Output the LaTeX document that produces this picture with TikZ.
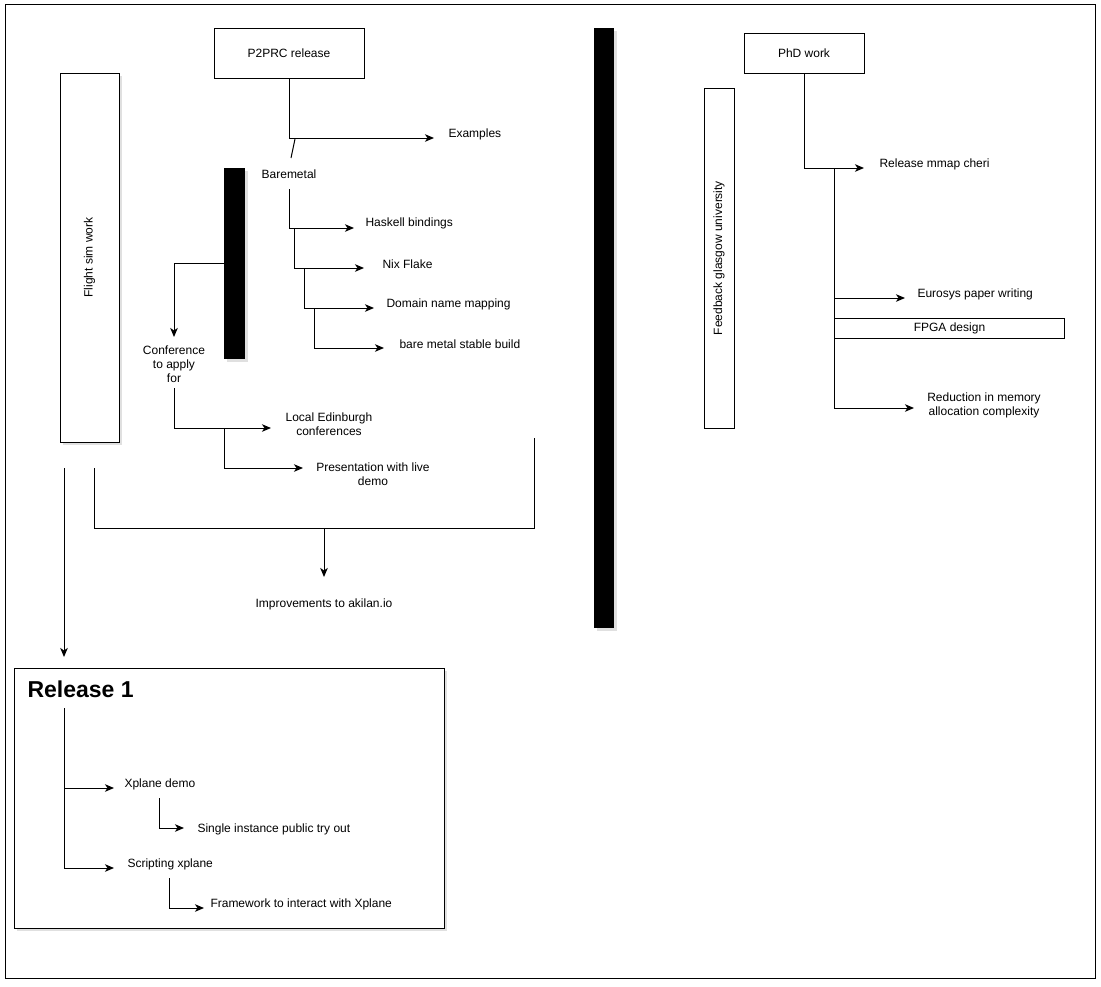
\documentclass[tikz,border=0pt]{standalone}
\usepackage{fontspec}
\setmainfont{Liberation Sans}
\usetikzlibrary{arrows.meta}
\begin{document}
\begin{tikzpicture}[x=1pt,y=-1pt,line width=1pt,
  fnt/.style={font=\fontsize{12}{14}\selectfont, inner sep=0pt, align=center},
  lbl/.style={fnt, yshift=-1.5pt},
  lblw/.style={lbl, anchor=west},
  boxn/.style={draw, fill=white, inner sep=0pt, font=\fontsize{12}{14}\selectfont},
  barn/.style={fill=black, inner sep=0pt},
  shd/.style={fill=black!12},
  arr/.style={-{Stealth[length=9pt,width=7.5pt,inset=2.5pt]}}
]
\useasboundingbox (0,0) rectangle (1101,986);
\fill[white] (0,0) rectangle (1101,986);
\draw (5,4) rectangle (1095,978);

% shadows
\fill[shd] (63,76) rectangle (122,445);
\fill[shd] (227,171) rectangle (248,362);
\fill[shd] (597,31) rectangle (617,631);
\fill[shd] (17,671) rectangle (447,931);

% left column
\node[boxn, minimum width=59pt, minimum height=369pt] (flight) at (89.5,257.5) {};
\node[fnt, rotate=90] (flighttxt) at (flight.center) {Flight sim work};

\node[boxn, minimum width=150pt, minimum height=50pt] (p2prc) at (289,53) {P2PRC release};
\node[lblw] (examples) at (448,133) {Examples};
\node[lbl] (baremetal) at (289,173) {Baremetal};
\node[barn, minimum width=21pt, minimum height=191pt] (bar1) at (234.5,263.5) {};
\node[lblw] (haskell) at (365,222) {Haskell bindings};
\node[lblw] (nix) at (382,263) {Nix Flake};
\node[lblw] (domain) at (386,303) {Domain name mapping};
\node[lblw] (stable) at (399,343) {bare metal stable build};
\node[lbl] (conf) at (174,363) {Conference\\to apply\\for};
\node[lbl] (edin) at (329,423) {Local Edinburgh\\conferences};
\node[lbl] (pres) at (373,473) {Presentation with live\\demo};
\node[lbl] (akilan) at (324,603) {Improvements to akilan.io};

\draw[arr] (p2prc.south) |- (434,138);
\draw (295,139) -- (291,158);
\draw[arr] (289,189) |- (354,228);
\draw[arr] (294,228) |- (364,268);
\draw[arr] (304,268) |- (374,308);
\draw[arr] (314,308) |- (384,348);
\draw[arr] (bar1.west) -| (174,337);
\draw[arr] (174,388) |- (271,428);
\draw[arr] (224,428) |- (303,468);
\draw (94,468) |- (534,528) -- (534,438);
\draw[arr] (324,528) -- (324,577);
\draw[arr] (64,468) -- (64,657);

% Release 1
\node[draw, fill=white, minimum width=430pt, minimum height=260pt, inner sep=0pt] (rel) at (229.5,798) {};
\node[anchor=west, inner sep=0pt, font=\fontsize{23}{26}\selectfont\bfseries] (reltitle) at (27,689) {Release 1};
\node[lblw] (xdemo) at (124,783) {Xplane demo};
\node[lblw] (single) at (197,828) {Single instance public try out};
\node[lblw] (script) at (127,863) {Scripting xplane};
\node[lblw] (frame) at (210,903) {Framework to interact with Xplane};
\draw (64,708) -- (64,868);
\draw[arr] (64,788) -- (114,788);
\draw[arr] (64,868) -- (114,868);
\draw[arr] (159,798) |- (184,828);
\draw[arr] (169,878) |- (204,908);

% separator
\node[barn, minimum width=20pt, minimum height=600pt] (bar2) at (604,328) {};

% right column
\node[boxn, minimum width=120pt, minimum height=40pt] (phd) at (804,53.5) {PhD work};
\node[boxn, minimum width=30pt, minimum height=340pt] (glas) at (719,258) {};
\node[fnt, rotate=90] (glastxt) at (glas.center) {Feedback glasgow university};
\node[lblw] (mmap) at (879,163) {Release mmap cheri};
\node[lblw] (eurosys) at (917,293) {Eurosys paper writing};
\node[boxn, minimum width=230pt, minimum height=20pt] (fpga) at (949.5,328) {FPGA design};
\node[lbl] (reduct) at (984,403.5) {Reduction in memory\\allocation complexity};
\draw[arr] (phd.south) |- (864,168);
\draw (834,168) -- (834,408);
\draw[arr] (834,298) -- (905,298);
\draw[arr] (834,408) -- (914,408);
\end{tikzpicture}
\end{document}
